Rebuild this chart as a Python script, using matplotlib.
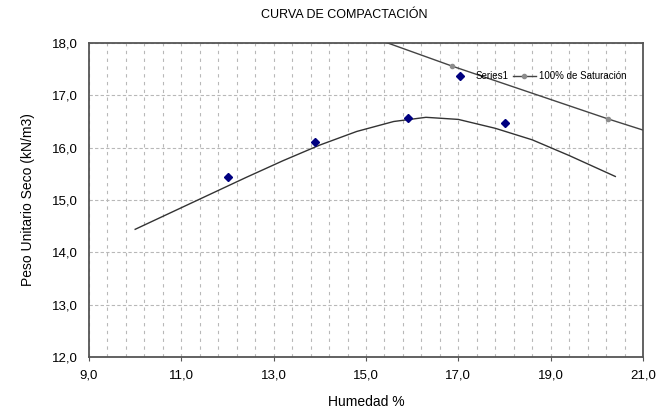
import matplotlib.pyplot as plt
import numpy as np
from matplotlib.ticker import FixedLocator, FuncFormatter

plt.rcParams['font.family'] = ['Liberation Sans', 'DejaVu Sans']

# ensayo proctor
humedad = [12.0, 13.9, 15.9, 18.0]
peso_seco = [15.43, 16.10, 16.57, 16.47]

# linea de tendencia
curva_x = [10.0, 10.8, 11.6, 12.4, 13.2, 14.0, 14.8, 15.6, 16.3, 17.0, 17.8, 18.6, 19.4, 20.4]
curva_y = [14.44, 14.77, 15.10, 15.43, 15.75, 16.05, 16.31, 16.50, 16.58, 16.54, 16.37, 16.15, 15.85, 15.45]

# 100% de saturacion
sat_x = [13.48, 16.86, 20.24, 23.62]
sat_y = [18.63, 17.56, 16.55, 15.60]


def coma(v, pos):
    return ("%.1f" % v).replace('.', ',')


fig = plt.figure(figsize=(6.71, 4.12), dpi=100)
ax = fig.add_axes([89 / 671, 1 - 357 / 412, 554 / 671, 314 / 412])

ax.plot(curva_x, curva_y, color='#333333', linewidth=1.0, zorder=3)
ax.plot(humedad, peso_seco, linestyle='none', marker='D', markersize=4,
        color='#000080', label='Series1', zorder=4)
ax.plot(sat_x, sat_y, color='#444444', linewidth=1.0, marker='o', markersize=3,
        markerfacecolor='#8c8c8c', markeredgecolor='#8c8c8c', label='100% de Saturación', zorder=3)

ax.set_xlim(9, 21)
ax.set_ylim(12, 18)
ax.xaxis.set_major_locator(FixedLocator(np.arange(9, 21.01, 2)))
ax.xaxis.set_minor_locator(FixedLocator(np.arange(9, 21.01, 0.4)))
ax.yaxis.set_major_locator(FixedLocator(np.arange(12, 18.01, 1)))
ax.xaxis.set_major_formatter(FuncFormatter(coma))
ax.yaxis.set_major_formatter(FuncFormatter(coma))

ax.grid(True, axis='x', which='both', color='#b8b8b8', linestyle=(0, (3, 4)), linewidth=0.8)
ax.grid(True, axis='y', which='major', color='#b8b8b8', linestyle=(0, (3, 2)), linewidth=0.8)
ax.set_axisbelow(True)

for s in ax.spines.values():
    s.set_color('#555555')
    s.set_linewidth(1.3)

ax.tick_params(axis='x', which='major', length=3, color='#555555', labelsize=9.5, pad=6)
ax.tick_params(axis='x', which='minor', length=0)
ax.tick_params(axis='y', length=0, labelsize=9.5, pad=8)

ax.set_xlabel('Humedad %', fontsize=10, labelpad=10)
ax.set_ylabel('Peso Unitario Seco (kN/m3)', fontsize=10, labelpad=12)
fig.text(0.513, 1 - 15 / 412, 'CURVA DE COMPACTACIÓN', ha='center', va='center', fontsize=9)

ax.legend(loc='center left', bbox_to_anchor=(0.65, 0.895), ncol=2, frameon=False,
          fontsize=7, borderpad=0, borderaxespad=0, handlelength=2.3,
          handletextpad=0.4, columnspacing=0.5)

plt.savefig('out.png', dpi=100)
